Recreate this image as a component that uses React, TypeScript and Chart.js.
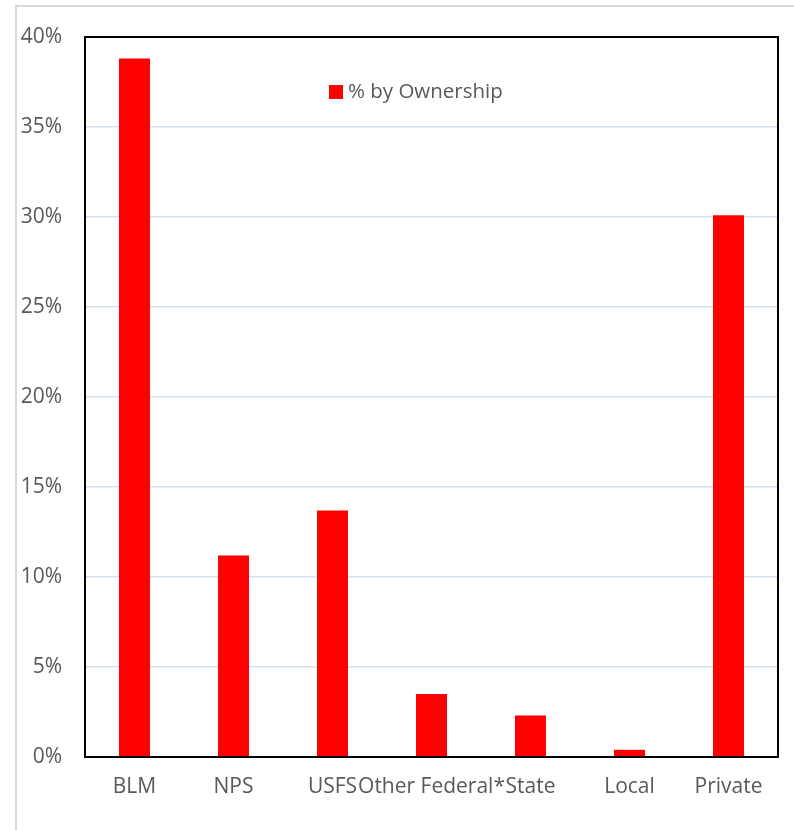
import React, { useEffect, useRef } from "react";
import { Chart, registerables } from "chart.js";

Chart.register(...registerables);

const categories = ["BLM", "NPS", "USFS", "Other Federal*", "State", "Local", "Private"];
const ownershipPercent = [38.8, 11.2, 13.7, 3.5, 2.3, 0.4, 30.1];
const yTicks = [0, 5, 10, 15, 20, 25, 30, 35, 40];
const seriesLabel = "% by Ownership";

const FONT = "'Open Sans', Lato, sans-serif";
const TEXT = "#595959";

const framePlugin = {
  id: "frame",
  afterDraw(chart: any) {
    const { ctx, chartArea } = chart;
    ctx.save();
    ctx.strokeStyle = "#000000";
    ctx.lineWidth = 2;
    ctx.strokeRect(chartArea.left, chartArea.top, chartArea.right - chartArea.left, chartArea.bottom - chartArea.top);
    // legend inside plot
    const ds = chart.data.datasets[0];
    ctx.fillStyle = ds.backgroundColor;
    ctx.fillRect(329, 85, 14, 14);
    ctx.fillStyle = TEXT;
    ctx.font = `20.5px ${FONT}`;
    ctx.textBaseline = "middle";
    ctx.textAlign = "left";
    ctx.fillText(ds.label, 348, 92);
    ctx.restore();
  },
};

export default function App() {
  const ref = useRef<HTMLCanvasElement | null>(null);
  useEffect(() => {
    if (!ref.current) return;
    const chart = new Chart(ref.current, {
      type: "bar",
      data: {
        labels: categories,
        datasets: [
          {
            label: seriesLabel,
            data: ownershipPercent,
            backgroundColor: "#ff0000",
            borderWidth: 0,
            barPercentage: 0.313,
            categoryPercentage: 1,
          },
        ],
      },
      options: {
        animation: false,
        responsive: false,
        devicePixelRatio: 1,
        layout: { padding: { top: 37, right: 16, left: 0, bottom: 0 } },
        plugins: { legend: { display: false }, tooltip: { enabled: false } },
        scales: {
          x: {
            grid: { display: false, drawTicks: false },
            border: { display: false },
            ticks: {
              autoSkip: false,
              maxRotation: 0,
              minRotation: 0,
              color: TEXT,
              font: { family: FONT, size: 21 },
              padding: 17,
            },
            afterFit: (axis: any) => {
              axis.height = 73;
            },
          },
          y: {
            min: 0,
            max: 40,
            afterBuildTicks: (axis: any) => {
              axis.ticks = yTicks.map((v) => ({ value: v }));
            },
            grid: { color: "#d6e2f0", lineWidth: 1.5, drawTicks: false },
            border: { display: false },
            ticks: {
              color: TEXT,
              font: { family: FONT, size: 21 },
              padding: 23,
              callback: (v: any) => `${v}%`,
            },
            afterFit: (axis: any) => {
              axis.width = 85;
            },
          },
        },
      },
      plugins: [framePlugin],
    });
    return () => chart.destroy();
  }, []);

  return (
    <div style={{ position: "fixed", left: 0, top: 0, width: 794, height: 830, background: "#fff" }}>
      <div
        style={{
          position: "absolute",
          left: 15,
          top: 5,
          width: 779,
          height: 825,
          borderTop: "2px solid #d9d9d9",
          borderLeft: "2px solid #d9d9d9",
          boxSizing: "border-box",
        }}
      />
      <canvas ref={ref} width={794} height={830} style={{ position: "absolute", left: 0, top: 0 }} />
    </div>
  );
}
